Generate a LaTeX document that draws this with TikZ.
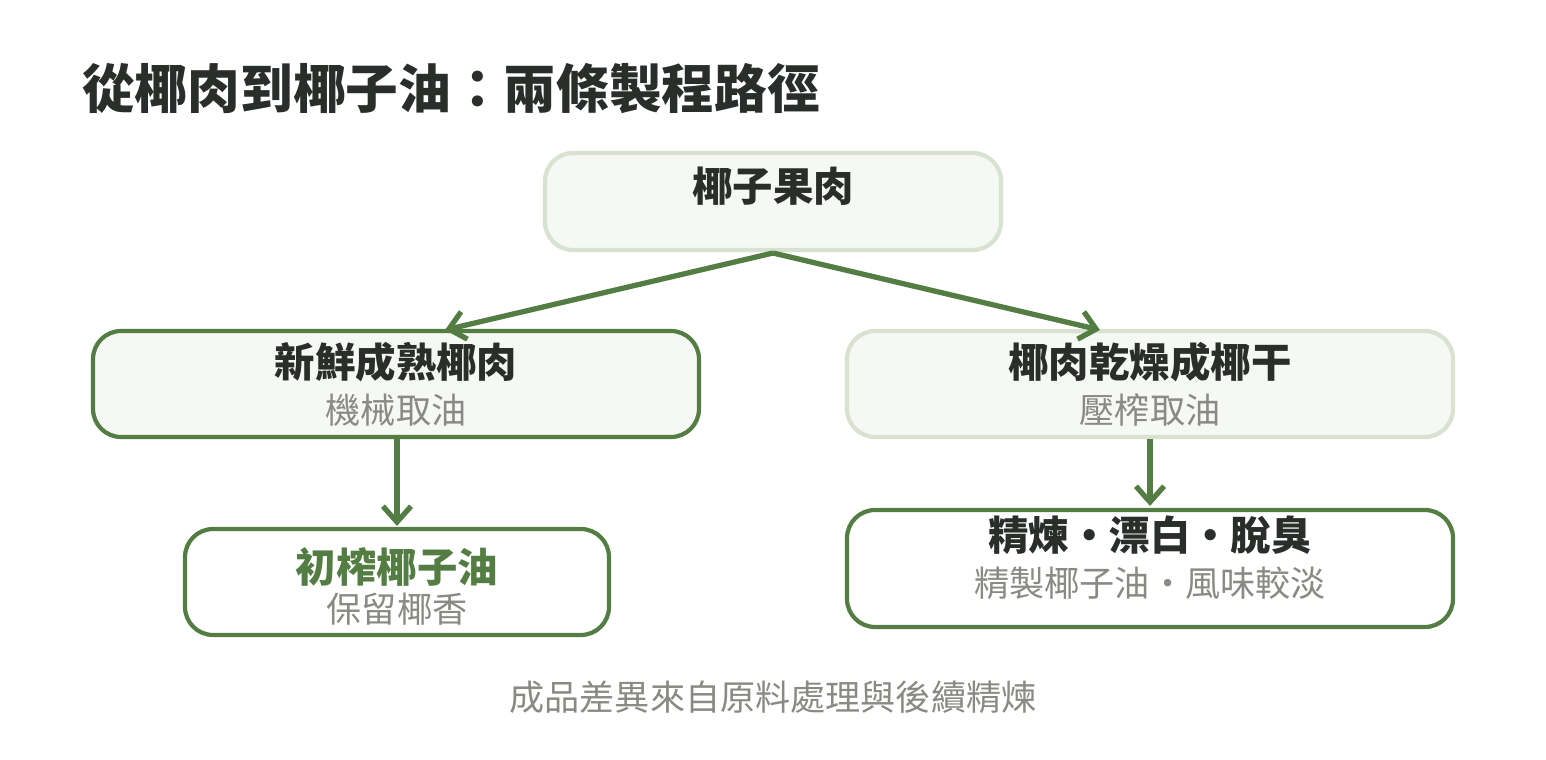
\documentclass[tikz,border=0pt]{standalone}
\usepackage{fontspec}
\setmainfont{Noto Sans CJK TC}
\usetikzlibrary{arrows.meta,positioning}
\definecolor{leaf}{HTML}{547D44}
\definecolor{pale}{HTML}{D8E2D0}
\definecolor{cream}{HTML}{F6F8F3}
\definecolor{ink}{HTML}{2A2E2A}
\definecolor{ash}{HTML}{8A8A85}
\tikzset{
    box/.style={draw=leaf, line width=2.4pt, rounded corners=16pt, inner sep=0pt},
    softbox/.style={box, draw=pale, fill=cream},
    head/.style={font=\bfseries\fontsize{23}{26}\selectfont, text=ink},
    sub/.style={font=\fontsize{20}{24}\selectfont, text=ash},
    flow/.style={draw=leaf, line width=3pt, -{Straight Barb[length=9pt,width=16pt,line width=3pt]}}
}
\begin{document}
\begin{tikzpicture}[x=0.02cm, y=-0.02cm]
        \useasboundingbox (0, 0) rectangle (1546, 760);
        \node[anchor=west, font=\bfseries\fontsize{30}{34}\selectfont, text=ink] (title) at (76, 89) {從椰肉到椰子油：兩條製程路徑};
        % boxes
        \draw[softbox] (545, 153) rectangle (1001, 250);
        \node[head] (meat) at (773, 186) {椰子果肉};
        \draw[box, fill=cream] (93, 331) rectangle (699, 437);
        \node[head] (fresh) at (396, 362) {新鮮成熟椰肉};
        \node[sub] (mech) at (396, 410) {機械取油};
        \draw[softbox] (847, 331) rectangle (1453, 437);
        \node[head] (dry) at (1150, 362) {椰肉乾燥成椰干};
        \node[sub] (press) at (1150, 410) {壓榨取油};
        \draw[box, fill=white] (185, 529) rectangle (609, 635);
        \node[head, text=leaf] (virgin) at (397, 567) {初榨椰子油};
        \node[sub] (aroma) at (397, 609) {保留椰香};
        \draw[box, fill=white] (847, 510) rectangle (1453, 627);
        \node[head] (refine) at (1150, 535) {精煉・漂白・脫臭};
        \node[sub] (rbd) at (1150, 583) {精製椰子油・風味較淡};
        \node[sub] (note) at (773, 697) {成品差異來自原料處理與後續精煉};
        % connectors
        \coordinate (split) at (773, 253);
        \coordinate (leftin) at (445, 330);
        \coordinate (rightin) at (1100, 330);
        \coordinate (leftout) at (397, 439);
        \coordinate (leftend) at (397, 526);
        \coordinate (rightout) at (1150, 439);
        \coordinate (rightend) at (1150, 506);
        \draw[flow] (split) -- (leftin);
        \draw[flow] (split) -- (rightin);
        \draw[flow] (leftout) -- (leftend);
        \draw[flow] (rightout) -- (rightend);
    \end{tikzpicture}
\end{document}
